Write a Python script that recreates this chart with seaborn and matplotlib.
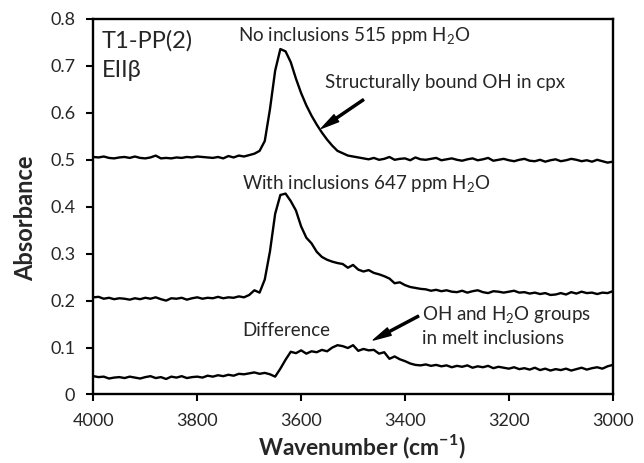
import numpy as np
import pandas as pd
import seaborn as sns
import matplotlib.pyplot as plt

# wavenumber grid (cm-1), 4000 -> 3000 every 10
wavenumber = list(range(4000, 2999, -10))

# absorbance
no_inclusions = [
    0.506, 0.505, 0.507, 0.504, 0.503, 0.505, 0.506, 0.504, 0.507, 0.504,
    0.503, 0.505, 0.509, 0.503, 0.504, 0.503, 0.505, 0.504, 0.506, 0.505,
    0.507, 0.506, 0.505, 0.504, 0.506, 0.503, 0.508, 0.505, 0.509, 0.507,
    0.510, 0.513, 0.519, 0.540, 0.608, 0.690, 0.736, 0.731, 0.708, 0.673,
    0.642, 0.616, 0.594, 0.575, 0.558, 0.543, 0.530, 0.519, 0.514, 0.509,
    0.507, 0.505, 0.503, 0.501, 0.504, 0.500, 0.502, 0.506, 0.500, 0.502,
    0.503, 0.499, 0.505, 0.501, 0.500, 0.502, 0.504, 0.499, 0.501, 0.503,
    0.500, 0.498, 0.501, 0.503, 0.499, 0.501, 0.504, 0.498, 0.500, 0.502,
    0.499, 0.497, 0.500, 0.502, 0.498, 0.497, 0.500, 0.496, 0.499, 0.501,
    0.497, 0.499, 0.502, 0.500, 0.497, 0.499, 0.496, 0.500, 0.497, 0.494,
    0.496,
]
with_inclusions = [
    0.207, 0.208, 0.204, 0.206, 0.203, 0.205, 0.204, 0.202, 0.205, 0.203,
    0.206, 0.204, 0.207, 0.203, 0.200, 0.205, 0.204, 0.206, 0.202, 0.205,
    0.207, 0.204, 0.206, 0.205, 0.208, 0.205, 0.207, 0.206, 0.209, 0.207,
    0.212, 0.222, 0.217, 0.245, 0.305, 0.385, 0.425, 0.428, 0.412, 0.392,
    0.358, 0.334, 0.322, 0.304, 0.293, 0.287, 0.283, 0.280, 0.278, 0.270,
    0.276, 0.266, 0.262, 0.265, 0.259, 0.256, 0.252, 0.247, 0.237, 0.239,
    0.233, 0.229, 0.227, 0.225, 0.224, 0.221, 0.223, 0.220, 0.222, 0.219,
    0.218, 0.221, 0.217, 0.220, 0.222, 0.218, 0.216, 0.220, 0.219, 0.217,
    0.219, 0.221, 0.217, 0.218, 0.215, 0.217, 0.214, 0.216, 0.212, 0.213,
    0.216, 0.213, 0.218, 0.215, 0.219, 0.216, 0.217, 0.214, 0.217, 0.216,
    0.220,
]
difference = [
    0.039, 0.037, 0.038, 0.034, 0.036, 0.037, 0.035, 0.038, 0.036, 0.034,
    0.037, 0.039, 0.035, 0.037, 0.033, 0.038, 0.036, 0.039, 0.035, 0.037,
    0.038, 0.036, 0.040, 0.038, 0.041, 0.039, 0.042, 0.040, 0.044, 0.043,
    0.045, 0.047, 0.044, 0.046, 0.043, 0.038, 0.055, 0.074, 0.091, 0.088,
    0.094, 0.087, 0.092, 0.090, 0.095, 0.092, 0.100, 0.105, 0.103, 0.099,
    0.105, 0.093, 0.097, 0.094, 0.095, 0.087, 0.090, 0.076, 0.081, 0.075,
    0.071, 0.066, 0.063, 0.062, 0.064, 0.061, 0.063, 0.060, 0.062, 0.058,
    0.061, 0.059, 0.062, 0.057, 0.060, 0.058, 0.061, 0.056, 0.059, 0.057,
    0.055, 0.058, 0.054, 0.056, 0.053, 0.057, 0.052, 0.055, 0.051, 0.054,
    0.052, 0.055, 0.051, 0.054, 0.057, 0.053, 0.056, 0.058, 0.055, 0.060,
    0.063,
]

df = pd.DataFrame({
    'wn': wavenumber * 3,
    'abs': no_inclusions + with_inclusions + difference,
    'spec': ['none'] * 101 + ['with'] * 101 + ['diff'] * 101,
})

sns.set_style('ticks')
plt.rcParams['font.family'] = ['Lato', 'DejaVu Sans']
plt.rcParams['mathtext.fontset'] = 'custom'
plt.rcParams['mathtext.rm'] = 'Lato'
plt.rcParams['mathtext.bf'] = 'Lato:bold'

fig = plt.figure(figsize=(6.44, 4.63), dpi=100)
ax = fig.add_axes([0.145, 0.148, 0.8065, 0.811])

sns.lineplot(data=df, x='wn', y='abs', units='spec', estimator=None,
             color='black', linewidth=1.7, ax=ax, sort=False)

ax.set_xlim(4000, 3000)
ax.set_ylim(0, 0.8)
ax.set_xticks([4000, 3800, 3600, 3400, 3200, 3000])
ax.set_yticks([0, 0.1, 0.2, 0.3, 0.4, 0.5, 0.6, 0.7, 0.8])
ax.set_yticklabels(['0', '0.1', '0.2', '0.3', '0.4', '0.5', '0.6', '0.7', '0.8'])
ax.tick_params(labelsize=13, width=1.5, length=5, color='black', pad=8)
for s in ax.spines.values():
    s.set_linewidth(1.7)
    s.set_color('black')

ax.set_xlabel(r'Wavenumber (cm$^{\mathbf{-1}}$)', fontsize=16.5, fontweight='bold')
ax.set_ylabel('Absorbance', fontsize=17, fontweight='bold')
ax.xaxis.set_label_coords(0.517, -0.14)
ax.xaxis.label.set_va('center')
ax.yaxis.set_label_coords(-0.131, 0.47)
ax.yaxis.label.set_va('center')

ax.text(3984, 0.753, 'T1-PP(2)', fontsize=17, va='center')
ax.text(3984, 0.69, 'EIIβ', fontsize=17, va='center')
ax.text(3721, 0.764, 'No inclusions 515 ppm H$_2$O', fontsize=13.5, va='center')
ax.text(3714, 0.448, 'With inclusions 647 ppm H$_2$O', fontsize=13.5, va='center')
ax.text(3714, 0.137, 'Difference', fontsize=13.5, va='center')

arrow = dict(facecolor='black', edgecolor='black', width=1.5, headwidth=6,
             headlength=13, shrink=0)
ax.text(3554, 0.664, 'Structurally bound OH in cpx', fontsize=13.5, va='center')
ax.annotate('', xy=(3561, 0.567), xytext=(3480, 0.628), arrowprops=arrow)
ax.text(3368, 0.146, 'OH and H$_2$O groups\nin melt inclusions', fontsize=13.5,
        va='center', ha='left', linespacing=1.3)
ax.annotate('', xy=(3461, 0.116), xytext=(3374, 0.167), arrowprops=arrow)

fig.savefig('out.png', dpi=100)
